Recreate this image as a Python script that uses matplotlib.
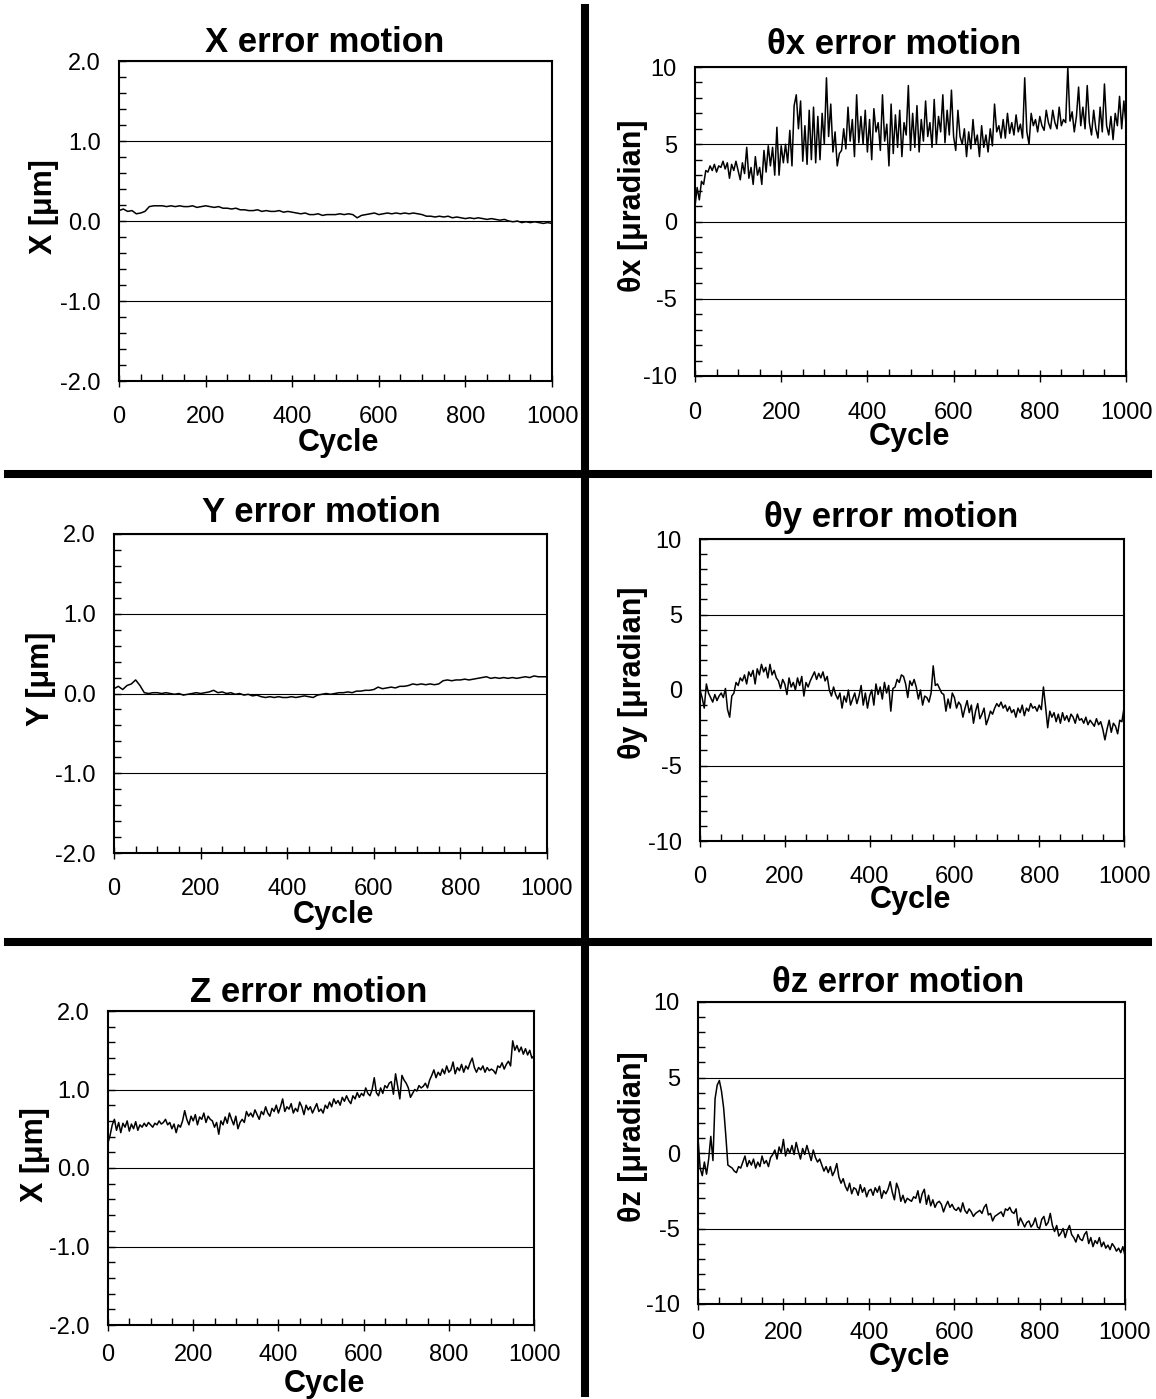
import numpy as np
import matplotlib
matplotlib.use('Agg')
import matplotlib.pyplot as plt
from matplotlib.lines import Line2D

plt.rcParams['font.family'] = ['Liberation Sans', 'DejaVu Sans']
plt.rcParams['axes.unicode_minus'] = False

# ------------------------------------------------------------------
# data (cycle step 10 for X/Y, 5 for the rest)
# ------------------------------------------------------------------
cycle_10 = np.arange(0, 1001, 10)
cycle_5 = np.arange(0, 1001, 5)

x_err = [0.13, 0.15, 0.12, 0.13, 0.09, 0.10, 0.12, 0.18, 0.19, 0.19, 0.19,
         0.18, 0.19, 0.18, 0.19, 0.18, 0.18, 0.19, 0.17, 0.18, 0.19,
         0.18, 0.17, 0.18, 0.16, 0.16, 0.15, 0.16, 0.14, 0.14, 0.13,
         0.13, 0.14, 0.12, 0.13, 0.12, 0.12, 0.13, 0.11, 0.12, 0.11,
         0.10, 0.09, 0.10, 0.08, 0.08, 0.09, 0.07, 0.08, 0.08, 0.08,
         0.09, 0.08, 0.09, 0.08, 0.04, 0.07, 0.08, 0.09, 0.10, 0.08,
         0.09, 0.10, 0.09, 0.10, 0.09, 0.10, 0.09, 0.10, 0.09, 0.08,
         0.06, 0.06, 0.05, 0.06, 0.05, 0.06, 0.04, 0.05, 0.04, 0.03,
         0.04, 0.03, 0.04, 0.03, 0.02, 0.03, 0.02, 0.01, 0.02, 0.00,
         -0.01, 0.00, -0.02, -0.01, -0.02, -0.01, -0.02, -0.03, -0.02, -0.03]

y_err = [0.06, 0.09, 0.05, 0.10, 0.12, 0.17, 0.10, 0.01, 0.00, 0.01, 0.01,
         0.00, 0.01, 0.00, -0.01, 0.00, -0.02, -0.01, 0.00, 0.01, 0.00,
         0.01, 0.02, 0.04, 0.01, 0.02, 0.00, 0.01, -0.01, 0.00, -0.02,
         -0.01, -0.03, -0.02, -0.04, -0.05, -0.04, -0.05, -0.04, -0.05, -0.05,
         -0.04, -0.05, -0.04, -0.03, -0.04, -0.05, -0.02, -0.01, 0.00, -0.01,
         0.00, 0.01, 0.01, 0.02, 0.01, 0.03, 0.03, 0.04, 0.04, 0.05,
         0.08, 0.06, 0.07, 0.08, 0.07, 0.09, 0.09, 0.10, 0.12, 0.11,
         0.12, 0.11, 0.12, 0.11, 0.12, 0.16, 0.17, 0.16, 0.17, 0.17,
         0.18, 0.17, 0.18, 0.19, 0.20, 0.21, 0.19, 0.20, 0.19, 0.20,
         0.19, 0.20, 0.19, 0.20, 0.21, 0.20, 0.22, 0.21, 0.21, 0.21]

z_err = [0.32, 0.42, 0.55, 0.62, 0.48, 0.58, 0.45, 0.57, 0.52, 0.60, 0.47,
         0.56, 0.50, 0.59, 0.48, 0.55, 0.52, 0.57, 0.53, 0.58, 0.55,
         0.52, 0.57, 0.55, 0.60, 0.56, 0.58, 0.62, 0.55, 0.58, 0.50,
         0.56, 0.45, 0.55, 0.52, 0.60, 0.73, 0.62, 0.55, 0.66, 0.60,
         0.68, 0.55, 0.65, 0.62, 0.70, 0.58, 0.66, 0.62, 0.60, 0.52,
         0.58, 0.43, 0.60, 0.55, 0.65, 0.57, 0.70, 0.62, 0.55, 0.66,
         0.50, 0.58, 0.62, 0.58, 0.72, 0.66, 0.70, 0.65, 0.74, 0.68,
         0.62, 0.72, 0.68, 0.78, 0.70, 0.66, 0.76, 0.72, 0.80, 0.70,
         0.78, 0.88, 0.72, 0.78, 0.75, 0.82, 0.70, 0.76, 0.72, 0.84,
         0.78, 0.68, 0.80, 0.74, 0.78, 0.70, 0.76, 0.82, 0.72, 0.75,
         0.70, 0.80, 0.76, 0.84, 0.78, 0.88, 0.82, 0.86, 0.80, 0.90,
         0.85, 0.92, 0.86, 0.82, 0.92, 0.88, 0.96, 0.90, 0.95, 0.92,
         1.02, 0.95, 0.92, 1.00, 1.15, 0.96, 0.92, 1.02, 0.95, 1.05,
         1.02, 1.08, 1.10, 0.94, 1.20, 1.04, 0.88, 1.18, 1.12, 1.08,
         1.02, 0.90, 0.95, 1.00, 0.98, 1.05, 1.02, 1.04, 1.08, 1.02,
         1.12, 1.18, 1.25, 1.15, 1.22, 1.18, 1.26, 1.20, 1.30, 1.22,
         1.25, 1.35, 1.20, 1.28, 1.24, 1.32, 1.22, 1.30, 1.26, 1.34,
         1.40, 1.28, 1.22, 1.28, 1.25, 1.30, 1.22, 1.28, 1.24, 1.26,
         1.24, 1.20, 1.30, 1.28, 1.34, 1.26, 1.32, 1.36, 1.30, 1.62,
         1.50, 1.56, 1.48, 1.54, 1.45, 1.52, 1.44, 1.50, 1.40, 1.43]

thx_err = [1.0, 2.2, 1.4, 2.6, 2.4, 3.3, 3.2, 3.6, 3.3, 3.7, 3.2,
           3.6, 3.5, 3.9, 3.4, 3.8, 2.8, 3.7, 3.3, 3.9, 3.3,
           2.7, 3.8, 3.1, 4.8, 2.8, 3.5, 2.4, 4.2, 3.0, 3.5,
           2.4, 4.6, 3.2, 4.9, 3.6, 4.8, 3.0, 6.1, 3.0, 4.9,
           3.8, 5.0, 3.8, 5.9, 3.6, 7.5, 8.2, 6.0, 7.8, 3.9,
           6.2, 3.7, 7.2, 4.0, 7.4, 3.8, 6.8, 4.0, 7.0, 5.0,
           9.3, 5.5, 7.6, 4.5, 5.8, 3.6, 4.4, 4.6, 6.0, 4.7,
           7.4, 5.2, 6.6, 4.2, 8.2, 5.1, 6.8, 5.0, 7.2, 4.5,
           6.6, 4.0, 7.3, 5.8, 6.4, 4.6, 8.2, 5.2, 6.3, 3.6,
           7.6, 4.4, 6.9, 4.8, 7.2, 4.2, 6.4, 5.6, 8.8, 4.6,
           7.0, 4.8, 7.5, 4.5, 6.6, 5.2, 7.8, 5.5, 6.4, 4.8,
           7.9, 5.0, 6.8, 5.8, 8.2, 5.1, 7.2, 5.6, 8.5, 5.5,
           4.6, 7.2, 5.5, 5.0, 6.0, 4.2, 5.8, 4.7, 6.6, 5.0,
           5.6, 4.2, 6.2, 4.8, 5.6, 4.5, 6.0, 4.9, 7.6, 5.8,
           6.2, 5.4, 6.6, 5.4, 7.0, 5.7, 6.4, 5.6, 6.9, 5.8,
           6.3, 5.4, 9.3, 5.8, 5.0, 7.0, 6.2, 6.6, 5.8, 6.8,
           6.2, 5.9, 7.2, 6.4, 6.0, 7.2, 6.4, 6.0, 7.4, 6.2,
           6.6, 6.4, 10.0, 6.5, 7.1, 5.8, 6.8, 8.7, 6.2, 7.4,
           6.0, 8.8, 6.4, 5.6, 7.2, 6.0, 5.4, 7.4, 5.8, 8.9,
           6.2, 5.6, 6.8, 5.3, 7.0, 6.2, 8.1, 6.0, 7.8, 6.3]

thy_err = [0.0, -0.5, -1.2, 0.4, -0.2, -0.5, -0.8, -0.3, -0.7, -0.4, -0.2,
           -0.5, 0.1, -1.3, -1.8, -0.4, -0.2, 0.5, 0.3, 0.8, 0.6,
           1.0, 0.4, 1.2, 0.9, 1.3, 0.4, 1.4, 1.0, 1.7, 1.2,
           1.5, 0.8, 1.7, 1.0, 1.3, 0.8, 0.6, 0.1, 0.7, 0.4,
           -0.3, 0.8, 0.2, 0.5, 0.0, 0.8, 0.3, 0.9, -0.4, 0.5,
           0.2, 0.6, 0.9, 1.2, 0.7, 1.1, 0.8, 1.2, 0.6, 0.9,
           0.0, -0.4, 0.2, -0.3, -0.6, -0.2, -1.2, -0.4, -0.8, 0.0,
           -1.0, -0.6, -0.2, -0.9, -0.4, 0.3, -1.0, -0.2, -1.2, -0.4,
           0.0, -1.0, 0.4, -0.3, 0.2, -0.6, 0.5, -0.2, 0.3, -1.4,
           0.1, 0.2, 0.7, 0.5, 1.0, 0.9, 0.4, -0.5, 0.6, 0.3,
           0.7, 0.2, -0.6, 0.0, -1.0, -0.4, -0.5, -0.8, -0.2, 1.6,
           0.3, 0.4, 0.1, -0.2, -0.3, -1.4, -0.6, -1.2, -0.2, -0.5,
           -1.2, -0.8, -1.0, -1.8, -1.2, -0.7, -1.5, -1.0, -2.2, -1.4,
           -0.9, -1.9, -1.6, -1.2, -2.3, -1.9, -1.4, -1.6, -1.2, -0.9,
           -1.1, -0.8, -1.2, -1.0, -1.4, -1.1, -1.5, -1.3, -1.8, -1.2,
           -1.5, -1.0, -1.7, -1.2, -1.4, -0.9, -1.2, -1.1, -1.4, -1.0,
           -1.3, 0.2, -1.1, -2.5, -1.4, -1.8, -1.5, -2.1, -1.6, -2.2,
           -1.5, -2.0, -1.7, -2.1, -1.6, -1.8, -2.2, -1.6, -2.0, -1.9,
           -2.2, -1.8, -2.3, -2.0, -2.2, -2.4, -1.9, -2.3, -2.1, -2.6,
           -3.3, -2.6, -2.0, -2.8, -2.2, -2.4, -2.9, -2.0, -2.1, -1.2]

thz_err = [1.0, -1.0, -1.5, -0.6, -1.4, -0.4, 1.1, -0.5, 3.6, 4.5, 4.8,
           4.1, 3.0, 1.2, -0.8, -0.9, -1.0, -1.2, -1.3, -0.9, -1.0,
           -0.6, -0.2, -0.9, -0.5, -0.8, -0.4, -1.0, -0.6, -0.9, -0.2,
           -0.7, -0.5, -0.9, -0.3, -0.1, 0.2, -0.4, 0.4, 0.0, 0.9,
           -0.2, 0.3, 0.0, 0.5, -0.1, 0.7, 0.1, -0.4, 0.3, -0.1,
           0.5, 0.0, -0.5, 0.2, -0.3, -0.6, -0.4, -0.8, -1.2, -0.9,
           -1.3, -0.9, -1.5, -1.2, -0.7, -1.6, -2.0, -1.7, -2.2, -2.5,
           -2.0, -2.7, -2.3, -2.4, -2.8, -2.1, -2.6, -2.3, -2.9, -2.5,
           -2.4, -2.8, -2.3, -2.6, -2.2, -3.0, -2.5, -2.7, -2.4, -1.9,
           -2.6, -3.1, -2.0, -2.4, -3.2, -2.8, -3.3, -3.0, -3.1, -3.2,
           -2.9, -3.0, -2.5, -3.3, -2.7, -2.4, -3.4, -2.8, -3.5, -3.1,
           -3.6, -3.3, -3.2, -3.4, -3.9, -3.5, -3.2, -3.6, -3.4, -3.7,
           -3.8, -3.6, -3.9, -3.3, -3.8, -4.0, -3.7, -3.9, -4.2, -4.0,
           -3.9, -3.8, -4.0, -3.6, -3.4, -4.1, -4.0, -4.5, -4.2, -4.1,
           -4.0, -3.9, -4.2, -3.7, -3.8, -3.6, -3.9, -4.0, -3.7, -4.8,
           -4.3, -4.6, -4.9, -4.6, -4.5, -4.9, -4.7, -4.3, -4.9, -5.0,
           -4.4, -4.2, -4.8, -4.6, -4.0, -4.8, -5.2, -4.8, -5.5, -5.3,
           -5.0, -5.6, -5.1, -4.8, -5.4, -5.6, -5.9, -5.4, -5.7, -5.8,
           -5.4, -5.2, -6.0, -5.6, -6.2, -5.8, -6.0, -5.6, -6.2, -5.9,
           -6.3, -6.1, -6.4, -6.0, -6.2, -6.5, -6.3, -6.6, -6.2, -6.8]

titles = ['X error motion', '\u03b8x error motion', 'Y error motion',
          '\u03b8y error motion', 'Z error motion', '\u03b8z error motion']
ylabels = ['X [\u03bcm]', '\u03b8x [\u03bcradian]', 'Y [\u03bcm]',
           '\u03b8y [\u03bcradian]', 'X [\u03bcm]', '\u03b8z [\u03bcradian]']
series = [(cycle_10, x_err), (cycle_5, thx_err), (cycle_10, y_err),
          (cycle_5, thy_err), (cycle_5, z_err), (cycle_5, thz_err)]

# ------------------------------------------------------------------
# layout in pixels (figure 1156 x 1399)
# ------------------------------------------------------------------
W, H = 1156, 1399
# axes box: left, top, right, bottom
boxes = [(119, 61, 552, 381), (695, 67, 1126, 376),
         (114, 534, 547, 853), (700, 539, 1124, 841),
         (108, 1011, 534, 1325), (698, 1002, 1125, 1304)]
title_xy = [(325, 42), (894, 45), (321, 512), (891, 517), (309, 992), (898, 983)]
ylabel_xy = [(44, 207), (633, 206), (41, 679), (633, 673), (35, 1155), (633, 1137)]
xlabel_xy = [(338, 443), (909, 437), (333, 915), (910, 900), (324, 1384), (909, 1357)]
xtick_pad = [14, 15, 14, 14, 10, 9]

fig = plt.figure(figsize=(W / 100, H / 100), dpi=100)
fig.patch.set_facecolor('white')


def fx(px):
    return px / W


def fy(py):
    return 1 - py / H


for i, (l, t, r, b) in enumerate(boxes):
    ax = fig.add_axes([fx(l), fy(b), (r - l) / W, (b - t) / H])
    xs, ys = series[i]
    ax.plot(xs, ys, color='black', lw=1.1)

    ax.set_xlim(0, 1000)
    ax.set_xticks(np.arange(0, 1001, 200))
    ax.set_xticks(np.arange(0, 1001, 50), minor=True)
    if i % 2 == 0:
        ax.set_ylim(-2, 2)
        ax.set_yticks(np.arange(-2, 2.01, 1.0))
        ax.set_yticks(np.arange(-2, 2.01, 0.2), minor=True)
        ax.set_yticklabels(['%.1f' % v for v in np.arange(-2, 2.01, 1.0)])
    else:
        ax.set_ylim(-10, 10)
        ax.set_yticks(np.arange(-10, 11, 5))
        ax.set_yticks(np.arange(-10, 11, 1), minor=True)

    ax.grid(True, which='major', axis='y', color='black', lw=0.8)
    for s in ax.spines.values():
        s.set_linewidth(1.5)

    ax.tick_params(axis='x', which='major', direction='inout', length=8,
                   width=1.0, pad=xtick_pad[i], labelsize=17)
    ax.tick_params(axis='x', which='minor', direction='in', length=5, width=1.0)
    ax.tick_params(axis='y', which='major', direction='in', length=5,
                   width=1.0, pad=13, labelsize=17)
    ax.tick_params(axis='y', which='minor', direction='in', length=5, width=1.0)

    tx, ty = title_xy[i]
    fig.text(fx(tx), fy(ty), titles[i], ha='center', va='center',
             fontsize=25, fontweight='bold')
    lx, ly = ylabel_xy[i]
    fig.text(fx(lx), fy(ly), ylabels[i], ha='center', va='center',
             rotation=90, fontsize=22, fontweight='bold')
    cx, cy = xlabel_xy[i]
    fig.text(fx(cx), fy(cy), 'Cycle', ha='center', va='center',
             fontsize=22, fontweight='bold')

# thick separators between the panels
fig.add_artist(Line2D([fx(585), fx(585)], [fy(8), fy(1393)], color='black', lw=5.8))
for yy in (474, 942):
    fig.add_artist(Line2D([fx(8), fx(1148)], [fy(yy), fy(yy)], color='black', lw=5.8))

fig.savefig('out.png', dpi=100)
